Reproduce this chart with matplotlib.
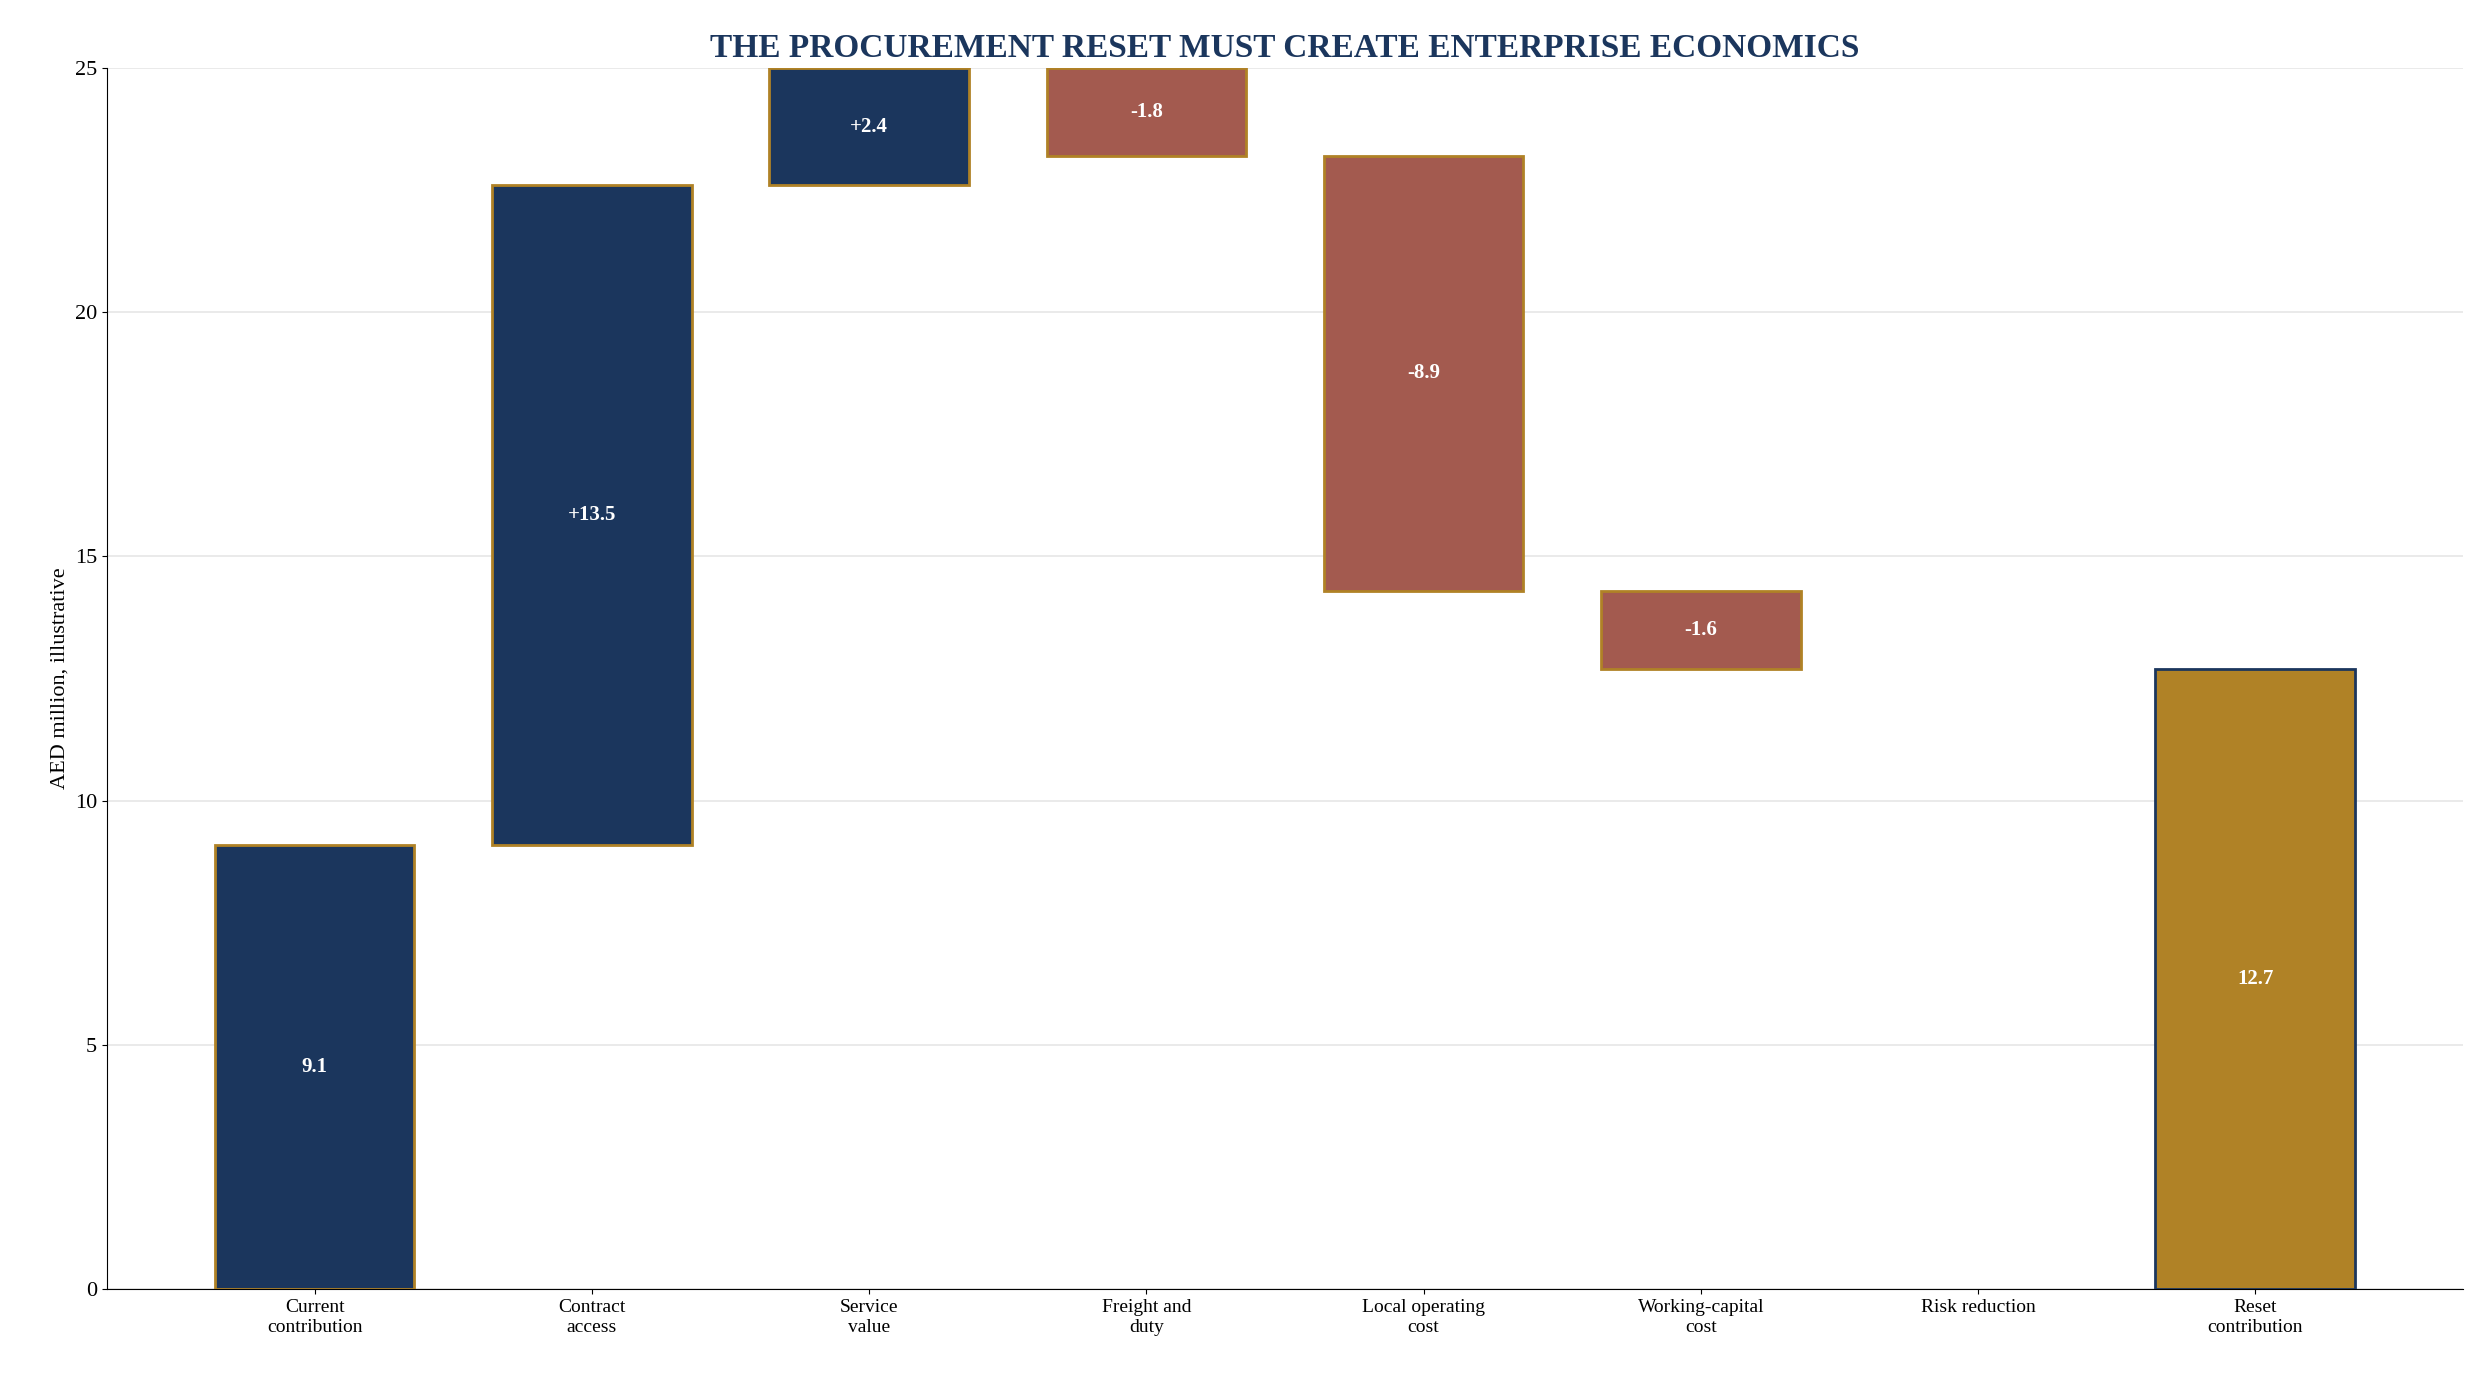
import matplotlib
matplotlib.use("Agg")
import matplotlib.pyplot as plt

categories = ["Current\ncontribution", "Contract\naccess", "Service\nvalue", "Freight and\nduty",
              "Local operating\ncost", "Working-capital\ncost", "Risk reduction", "Reset\ncontribution"]
deltas = [9.1, 13.5, 2.4, -1.8, -8.9, -1.6, 0.0, 12.7]
kinds = ["total", "delta", "delta", "delta", "delta", "delta", "delta", "total"]

NAVY, RED, GOLD = "#1B365D", "#A35A4F", "#B08226"

plt.rcParams["font.family"] = ["Liberation Serif", "DejaVu Serif"]
fig = plt.figure(figsize=(24.83, 13.85), dpi=100)
ax = fig.add_axes([0.043, 0.069, 0.949, 0.882])

run = 0.0
for i, (d, k) in enumerate(zip(deltas, kinds)):
    if k == "total":
        bottom, h = 0, d
        color = GOLD if i == len(deltas) - 1 else NAVY
        edge = NAVY if i == len(deltas) - 1 else GOLD
        label = f"{d:.1f}"
        run = d
    else:
        if d == 0:
            continue
        bottom = run if d > 0 else run + d
        h = abs(d)
        color = NAVY if d > 0 else RED
        edge = GOLD
        label = f"{d:+.1f}"
        run += d
    ax.bar(i, h, bottom=bottom, width=0.72, color=color, edgecolor=edge, linewidth=2, zorder=3)
    top = min(bottom + h, 25)
    ax.text(i, (bottom + top) / 2, label, ha="center", va="center", color="white",
            fontsize=15, fontweight="bold", zorder=4)

ax.set_ylim(0, 25)
ax.set_xlim(-0.75, 7.75)
ax.set_xticks(range(len(categories)))
ax.set_xticklabels(categories, fontsize=14)
ax.tick_params(axis="y", labelsize=16)
ax.set_ylabel("AED million, illustrative", fontsize=16)
ax.yaxis.grid(True, color="#e6e6e6", linewidth=1.2, zorder=0)
ax.set_axisbelow(True)
for s in ["top", "right"]:
    ax.spines[s].set_visible(False)
ax.set_title("THE PROCUREMENT RESET MUST CREATE ENTERPRISE ECONOMICS", fontsize=24,
             fontweight="bold", color=NAVY, pad=8)
fig.savefig("out.png", dpi=100)
